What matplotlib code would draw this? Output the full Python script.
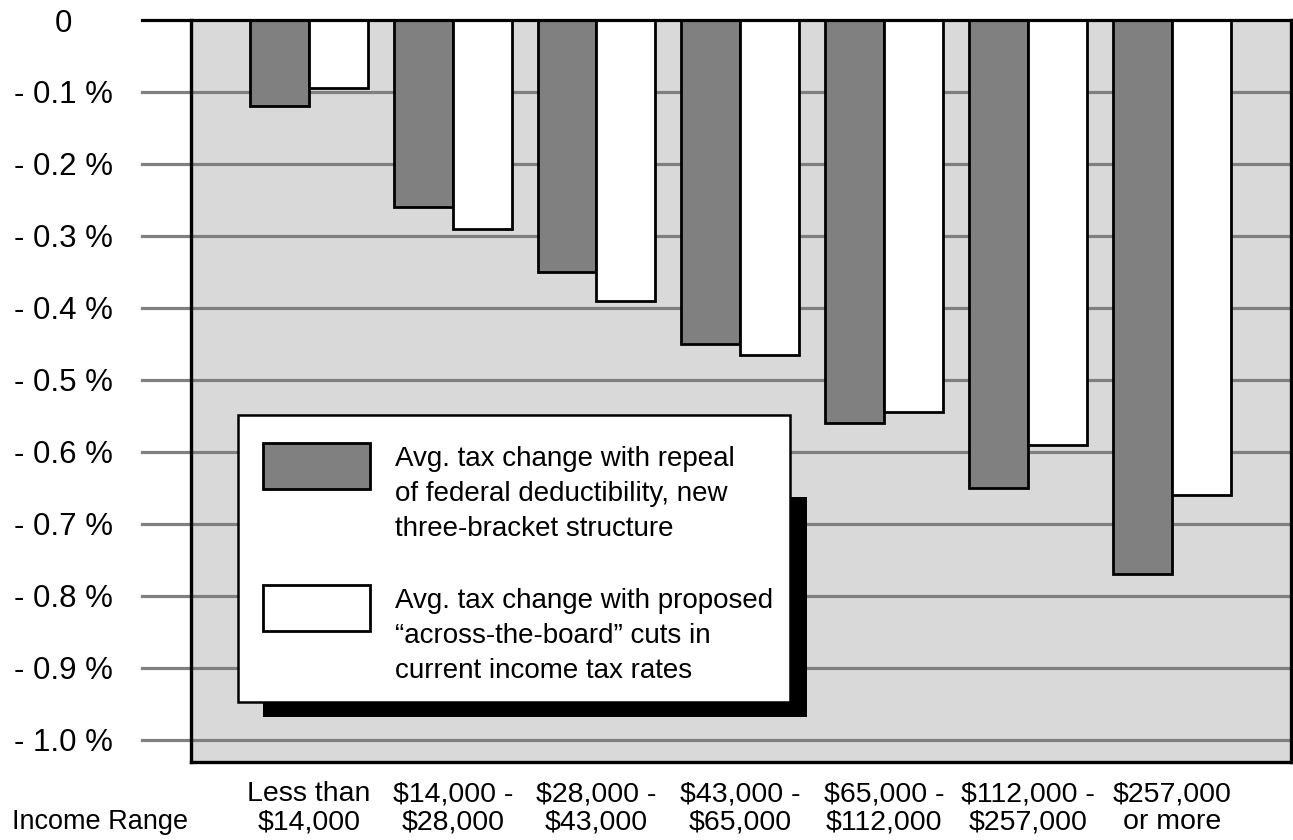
import matplotlib.pyplot as plt
from matplotlib.patches import Rectangle

plt.rcParams['font.family'] = ['Liberation Sans', 'DejaVu Sans']

W, H = 1293, 840

categories = ["Less than\n$14,000", "$14,000 -\n$28,000", "$28,000 -\n$43,000",
              "$43,000 -\n$65,000", "$65,000 -\n$112,000", "$112,000 -\n$257,000",
              "$257,000\nor more"]
repeal = [-0.12, -0.26, -0.35, -0.45, -0.56, -0.65, -0.77]
across = [-0.095, -0.29, -0.39, -0.465, -0.545, -0.59, -0.66]
yticks = [0, -0.1, -0.2, -0.3, -0.4, -0.5, -0.6, -0.7, -0.8, -0.9, -1.0]
ytick_labels = ["0"] + ["- %.1f %%" % abs(v) for v in yticks[1:]]
legend_labels = ["Avg. tax change with repeal\nof federal deductibility, new\nthree-bracket structure",
                 "Avg. tax change with proposed\n\u201cacross-the-board\u201d cuts in\ncurrent income tax rates"]

DARK = "#808080"
BG = "#d9d9d9"


def fx(x):
    return x / W


def fy(y):
    return 1 - y / H


fig = plt.figure(figsize=(W / 100, H / 100), dpi=100)
ax = fig.add_axes([fx(191), fy(762), fx(1291) - fx(191), fy(20) - fy(762)])
ax.set_facecolor(BG)

bw = 0.41
xs = range(len(categories))
ax.bar([x - bw / 2 for x in xs], repeal, bw, color=DARK, edgecolor="black", linewidth=2, zorder=3)
ax.bar([x + bw / 2 for x in xs], across, bw, color="white", edgecolor="black", linewidth=2, zorder=3)

ax.set_xlim(-0.82, 6.83)
ax.set_ylim(-1.0306, 0)

# gridlines that stick out to the left as ticks
for v in yticks[1:]:
    ax.axhline(v, xmin=-0.0445, xmax=1, color=DARK, linewidth=2.3, clip_on=False, zorder=1)
ax.axhline(0, xmin=-0.0445, xmax=1, color="black", linewidth=2.3, clip_on=False, zorder=5)

for s in ["left", "right", "bottom"]:
    ax.spines[s].set_linewidth(2.4)
    ax.spines[s].set_zorder(6)
ax.spines["top"].set_visible(False)

ax.set_yticks(yticks)
ax.set_yticklabels(ytick_labels, fontsize=22.5, ha="center")
ax.tick_params(axis="y", length=0, pad=92)
ax.set_xticks(list(xs))
ax.set_xticklabels(categories, fontsize=20.5, linespacing=1.08)
ax.tick_params(axis="x", length=0, pad=14)

fig.text(fx(12), fy(829), "Income Range", fontsize=19.5, ha="left", va="baseline")

# legend box with drop shadow
fig.patches.append(Rectangle((fx(263), fy(717)), fx(807) - fx(263), fy(497) - fy(717),
                             transform=fig.transFigure, facecolor="black", edgecolor="none", zorder=10))
fig.patches.append(Rectangle((fx(238), fy(702)), fx(790) - fx(238), fy(415) - fy(702),
                             transform=fig.transFigure, facecolor="white", edgecolor="black",
                             linewidth=1.8, zorder=11))
for i, (col, lab) in enumerate(zip([DARK, "white"], legend_labels)):
    top = 443 + i * 142
    fig.patches.append(Rectangle((fx(263), fy(top + 46)), fx(370) - fx(263), fy(top) - fy(top + 46),
                                 transform=fig.transFigure, facecolor=col, edgecolor="black",
                                 linewidth=2, zorder=12))
    fig.text(fx(395), fy(top + 3), lab, fontsize=20, ha="left", va="top",
             linespacing=1.46, zorder=13)

fig.savefig("out.png", dpi=100)
